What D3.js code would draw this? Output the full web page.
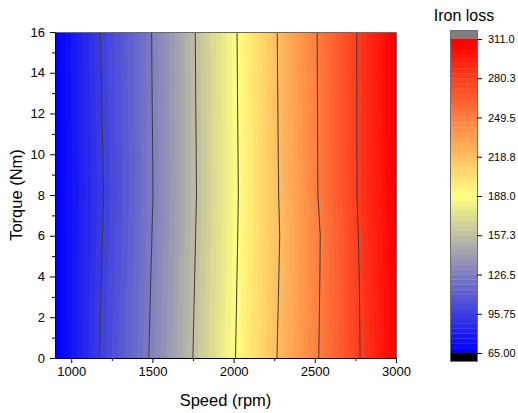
<!DOCTYPE html>
<html>
<head>
<meta charset="utf-8">
<script src="https://cdn.jsdelivr.net/npm/d3@7"></script>
<style>
  body { margin: 0; background: #fff; }
  svg { display: block; font-family: "Liberation Sans", Arial, sans-serif; }
</style>
</head>
<body>
<svg id="chart" width="518" height="413"></svg>
<script>
// Measurement grid: motor speed (rpm) across, torque (Nm) down the rows
const speeds = [900, 1000, 1200, 1400, 1600, 1800, 2000, 2200, 2400, 2600, 2800, 3000];
const torques = [0, 2, 4, 6, 8, 10, 12, 14, 16];

// Iron loss (W), one row per torque value, one column per speed
const lossT0  = [65.0, 76.39, 98.66, 118.06, 139.76, 163.21, 186.60, 210.76, 234.66, 258.56, 282.83, 308.0];
const lossT2  = [65.2, 76.21, 97.94, 117.40, 139.05, 162.59, 186.06, 210.04, 234.01, 258.26, 283.16, 308.5];
const lossT4  = [65.4, 76.05, 97.21, 116.74, 138.33, 161.96, 185.53, 209.33, 233.34, 257.99, 283.67, 309.0];
const lossT6  = [65.6, 75.91, 96.48, 116.07, 137.58, 161.28, 184.98, 208.68, 232.73, 257.86, 284.54, 309.8];
const lossT8  = [65.8, 75.78, 95.75, 115.40, 136.85, 160.64, 184.43, 208.99, 234.25, 259.88, 285.40, 310.5];
const lossT10 = [65.9, 76.04, 96.28, 115.65, 137.01, 160.88, 184.67, 209.33, 234.51, 259.98, 285.49, 310.8];
const lossT12 = [66.0, 76.29, 96.80, 115.93, 137.21, 161.12, 184.91, 209.62, 234.72, 260.06, 285.52, 311.0];
const lossT14 = [66.1, 76.56, 97.31, 116.20, 137.41, 161.35, 185.15, 209.91, 234.94, 260.15, 285.52, 311.0];
const lossT16 = [66.2, 76.83, 97.80, 116.44, 137.57, 161.59, 185.38, 210.20, 235.15, 260.23, 285.52, 311.0];
const ironLoss = [lossT0, lossT2, lossT4, lossT6, lossT8, lossT10, lossT12, lossT14, lossT16];

// Contour levels: major levels carry the lines and colour-bar labels
const majorLevels = [65, 95.75, 126.5, 157.25, 188, 218.75, 249.5, 280.25, 311];
const colorbarLabels = ["65.00", "95.75", "126.5", "157.3", "188.0", "218.8", "249.5", "280.3", "311.0"];
const subBands = 8; // filled bands between two major levels

// Axis ticks
const speedTicks = [1000, 1500, 2000, 2500, 3000];
const speedMinorTicks = [1250, 1750, 2250, 2750];
const torqueTicks = [0, 2, 4, 6, 8, 10, 12, 14, 16];
const torqueMinorTicks = [1, 3, 5, 7, 9, 11, 13, 15];

// Palette: blue -> pale yellow -> red
const paletteStops = ["#0000ff", "#ffff80", "#ff0000"];

const svg = d3.select("#chart");
const plot = { left: 55, right: 396, top: 32, bottom: 358 };

const x = d3.scaleLinear().domain([speeds[0], speeds[speeds.length - 1]]).range([plot.left, plot.right]);
const y = d3.scaleLinear().domain([torques[0], torques[torques.length - 1]]).range([plot.bottom, plot.top]);

const vMin = majorLevels[0], vMax = majorLevels[majorLevels.length - 1];
const nBands = (majorLevels.length - 1) * subBands;
const bandStep = (vMax - vMin) / nBands;
const thresholds = d3.range(nBands).map(i => vMin + i * bandStep);
const palette = d3.scaleLinear().domain([0, 0.5, 1]).range(paletteStops).interpolate(d3.interpolateRgb);
const bandColor = i => palette(i / (nBands - 1));

// Contour generator over the grid; grid coordinate k+0.5 sits on sample k
const nx = speeds.length, ny = torques.length;
const values = ironLoss.flat();
const contours = d3.contours().size([nx, ny]).smooth(true);
const idxSpeed = d3.scaleLinear().domain(d3.range(nx)).range(speeds);
const idxTorque = d3.scaleLinear().domain(d3.range(ny)).range(torques);
const gridToScreen = d3.geoTransform({
  point(gx, gy) { this.stream.point(x(idxSpeed(gx - 0.5)), y(idxTorque(gy - 0.5))); }
});
const path = d3.geoPath(gridToScreen);

svg.append("clipPath").attr("id", "plot-clip")
  .append("rect")
  .attr("x", plot.left).attr("y", plot.top)
  .attr("width", plot.right - plot.left).attr("height", plot.bottom - plot.top);

const field = svg.append("g").attr("clip-path", "url(#plot-clip)");

field.append("rect")
  .attr("x", plot.left).attr("y", plot.top)
  .attr("width", plot.right - plot.left).attr("height", plot.bottom - plot.top)
  .attr("fill", bandColor(0));

field.selectAll("path.band")
  .data(thresholds)
  .join("path")
  .attr("class", "band")
  .attr("d", t => path(contours.contour(values, t)))
  .attr("fill", (t, i) => bandColor(i))
  .attr("stroke", (t, i) => bandColor(i))
  .attr("stroke-width", 0.4);

field.selectAll("path.iso")
  .data(majorLevels.slice(1, -1))
  .join("path")
  .attr("class", "iso")
  .attr("d", lv => path(contours.contour(values, lv)))
  .attr("fill", "none")
  .attr("stroke", "#3c3c3c")
  .attr("stroke-width", 1);

// Frame: top and right edges
svg.append("path")
  .attr("d", `M${plot.left},${plot.top + 0.5}H${plot.right + 0.5}V${plot.bottom}`)
  .attr("fill", "none").attr("stroke", "#6a6a6a").attr("stroke-width", 1);

// Axes
const styleAxis = g => {
  g.select(".domain").attr("stroke", "#000").attr("stroke-width", 1);
  g.selectAll(".tick line").attr("stroke", "#000").attr("stroke-width", 1);
  g.selectAll(".tick text").attr("fill", "#000").style("font-size", "13px")
    .style("font-family", '"Liberation Sans", Arial, sans-serif');
};

svg.append("g")
  .attr("transform", `translate(0,${plot.bottom})`)
  .call(d3.axisBottom(x).tickValues(speedMinorTicks).tickSize(3).tickFormat(""))
  .call(g => g.select(".domain").remove())
  .call(styleAxis);
svg.append("g")
  .attr("transform", `translate(0,${plot.bottom})`)
  .call(d3.axisBottom(x).tickValues(speedTicks).tickSize(5).tickSizeOuter(0).tickPadding(4).tickFormat(d3.format("d")))
  .call(styleAxis);

svg.append("g")
  .attr("transform", `translate(${plot.left},0)`)
  .call(d3.axisLeft(y).tickValues(torqueMinorTicks).tickSize(3).tickFormat(""))
  .call(g => g.select(".domain").remove())
  .call(styleAxis);
svg.append("g")
  .attr("transform", `translate(${plot.left},0)`)
  .call(d3.axisLeft(y).tickValues(torqueTicks).tickSize(5).tickSizeOuter(0).tickPadding(5).tickFormat(d3.format("d")))
  .call(styleAxis);

svg.append("text")
  .attr("x", (plot.left + plot.right) / 2).attr("y", 406)
  .attr("text-anchor", "middle").style("font-size", "16.5px").attr("fill", "#000")
  .text("Speed (rpm)");

svg.append("text")
  .attr("transform", `translate(22,${(plot.top + plot.bottom) / 2}) rotate(-90)`)
  .attr("text-anchor", "middle").style("font-size", "16.5px").attr("fill", "#000")
  .text("Torque (Nm)");

// Colour bar
const cb = { left: 451, right: 477, top: 39, bottom: 353, cap: 8 };
const cbScale = d3.scaleLinear().domain([vMin, vMax]).range([cb.bottom, cb.top]);
const cbG = svg.append("g");

cbG.selectAll("rect.cb-band")
  .data(thresholds)
  .join("rect")
  .attr("class", "cb-band")
  .attr("x", cb.left)
  .attr("width", cb.right - cb.left)
  .attr("y", t => cbScale(t + bandStep))
  .attr("height", t => cbScale(t) - cbScale(t + bandStep) + 0.3)
  .attr("fill", (t, i) => bandColor(i));

cbG.append("rect")
  .attr("x", cb.left).attr("y", cb.top - cb.cap)
  .attr("width", cb.right - cb.left).attr("height", cb.cap)
  .attr("fill", "#808080");
cbG.append("rect")
  .attr("x", cb.left).attr("y", cb.bottom)
  .attr("width", cb.right - cb.left).attr("height", cb.cap)
  .attr("fill", "#000");
cbG.append("rect")
  .attr("x", cb.left - 0.5).attr("y", cb.top - cb.cap - 0.5)
  .attr("width", cb.right - cb.left + 1).attr("height", cb.bottom - cb.top + 2 * cb.cap + 1)
  .attr("fill", "none").attr("stroke", "#6e6e6e").attr("stroke-width", 1);

const cbAxis = svg.append("g")
  .attr("transform", `translate(${cb.right},0)`)
  .call(d3.axisRight(cbScale).tickValues(majorLevels).tickSize(5).tickPadding(6)
    .tickFormat((d, i) => colorbarLabels[i]));
cbAxis.select(".domain").remove();
cbAxis.selectAll(".tick line").attr("stroke", "#000");
cbAxis.selectAll(".tick text").attr("fill", "#000").style("font-size", "11px")
  .style("font-family", '"Liberation Sans", Arial, sans-serif');

svg.append("text")
  .attr("x", (cb.left + cb.right) / 2).attr("y", 21)
  .attr("text-anchor", "middle").style("font-size", "16px").attr("fill", "#000")
  .text("Iron loss");
</script>
</body>
</html>
